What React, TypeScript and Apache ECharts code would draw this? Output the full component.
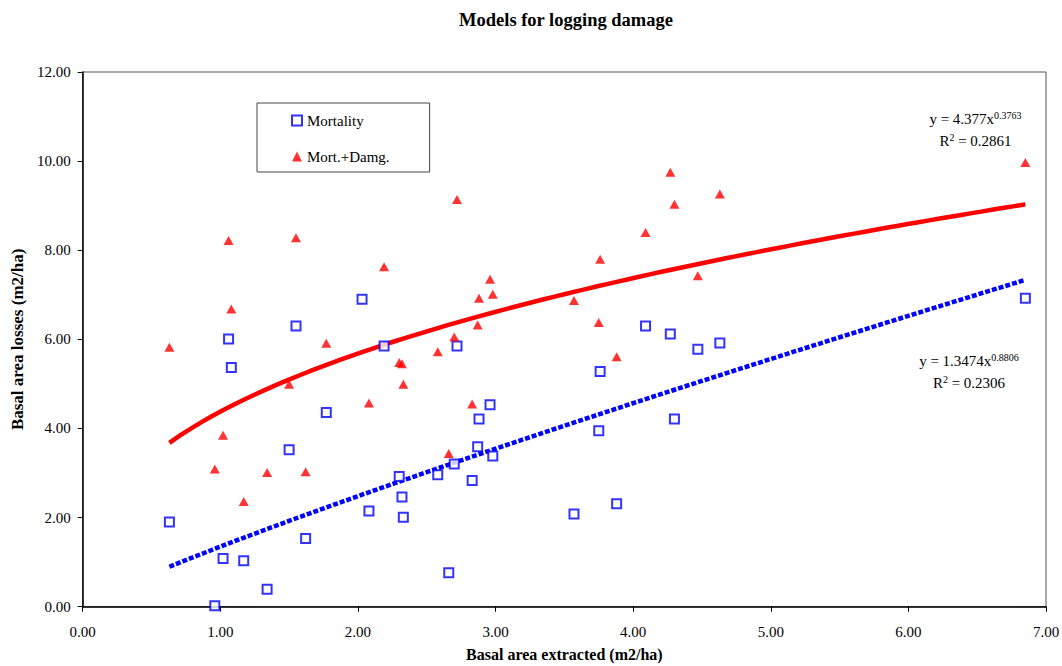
import React, { useEffect, useRef } from "react";
import * as echarts from "echarts";

// Basal area extracted (m2/ha) for each plot
const extracted = [0.63, 0.96, 1.02, 1.06, 1.08, 1.17, 1.34, 1.5, 1.55, 1.62, 1.77, 2.03, 2.08, 2.19, 2.3, 2.32, 2.33, 2.58, 2.66, 2.7, 2.72, 2.83, 2.87, 2.88, 2.96, 2.98, 3.57, 3.75, 3.76, 3.88, 4.09, 4.27, 4.3, 4.47, 4.63, 6.85];
// Mortality basal area losses (m2/ha)
const mortality = [1.9, 0.02, 1.08, 6.01, 5.37, 1.03, 0.39, 3.52, 6.3, 1.53, 4.36, 6.9, 2.15, 5.85, 2.92, 2.46, 2.01, 2.96, 0.76, 3.2, 5.85, 2.83, 3.59, 4.21, 4.53, 3.38, 2.08, 3.95, 5.28, 2.31, 6.3, 6.12, 4.21, 5.78, 5.92, 6.92];
// Mortality + damage basal area losses (m2/ha)
const mortDamage = [5.82, 3.09, 3.85, 8.22, 6.68, 2.36, 3.01, 4.99, 8.28, 3.03, 5.91, null, 4.57, 7.63, 5.48, 5.45, 4.99, 5.72, 3.44, 6.05, 9.14, 4.55, 6.32, 6.92, 7.35, 7.01, 6.87, 6.38, 7.8, 5.61, 8.4, 9.75, 9.03, 7.43, 9.26, 9.97];

// Power trendline coefficients shown on the chart
const mortalityFit = { a: 1.3474, b: 0.8806, r2: "0.2306" };
const mortDamageFit = { a: 4.377, b: 0.3763, r2: "0.2861" };

const xTicks = [0, 1, 2, 3, 4, 5, 6, 7];
const yTicks = [0, 2, 4, 6, 8, 10, 12];

const FONT = "'Liberation Serif', 'Times New Roman', serif";

function fitLine(fit: { a: number; b: number }) {
  const lo = Math.min(...extracted);
  const hi = Math.max(...extracted);
  const n = 80;
  const pts: number[][] = [];
  for (let i = 0; i <= n; i++) {
    const x = lo + ((hi - lo) * i) / n;
    pts.push([x, fit.a * Math.pow(x, fit.b)]);
  }
  return pts;
}

export default function App() {
  const ref = useRef<HTMLDivElement>(null);
  useEffect(() => {
    if (!ref.current) return;
    const chart = echarts.init(ref.current, undefined, { renderer: "svg" });
    const mortData = extracted.map((x, i) => [x, mortality[i]]);
    const mdData = extracted
      .map((x, i) => [x, mortDamage[i]])
      .filter((p) => p[1] !== null);

    const rich = {
      a: { fontFamily: FONT, fontSize: 15, color: "#222", lineHeight: 18 },
      s: { fontFamily: FONT, fontSize: 10, color: "#222", verticalAlign: "top", lineHeight: 18 },
    };

    chart.setOption({
      animation: false,
      backgroundColor: "#fff",
      title: {
        text: "Models for logging damage",
        left: 561,
        textAlign: "center",
        top: 5,
        textStyle: { fontFamily: FONT, fontWeight: "bold", fontSize: 18.5, color: "#000" },
      },
      grid: {
        left: 82.7,
        right: 16,
        top: 72,
        bottom: 59.3,
        outerBoundsMode: "none",
        containLabel: false,
        show: true,
        borderColor: "#555",
        borderWidth: 1,
        backgroundColor: "transparent",
      },
      legend: {
        data: ["Mortality", "Mort.+Damg."],
        orient: "vertical",
        left: 257,
        top: 103,
        padding: [10, 40, 8, 34],
        itemGap: 21,
        itemWidth: 10,
        itemHeight: 10,
        borderColor: "#444",
        borderWidth: 1,
        textStyle: { fontFamily: FONT, fontSize: 15, color: "#000" },
      },
      xAxis: {
        type: "value",
        min: xTicks[0],
        max: xTicks[xTicks.length - 1],
        interval: 1,
        name: "Basal area extracted (m2/ha)",
        nameLocation: "middle",
        nameGap: 40,
        nameTextStyle: { fontFamily: FONT, fontWeight: "bold", fontSize: 16, color: "#000" },
        axisLine: { lineStyle: { color: "#000", width: 1.5 } },
        axisTick: { show: true, length: 5, lineStyle: { color: "#000" } },
        splitLine: { show: false },
        axisLabel: {
          margin: 18,
          fontFamily: FONT,
          fontSize: 15,
          color: "#000",
          formatter: (v: number) => v.toFixed(2),
        },
      },
      yAxis: {
        type: "value",
        min: yTicks[0],
        max: yTicks[yTicks.length - 1],
        interval: 2,
        name: "Basal area losses (m2/ha)",
        nameLocation: "middle",
        nameGap: 57,
        nameTextStyle: { fontFamily: FONT, fontWeight: "bold", fontSize: 17, color: "#000" },
        axisLine: { lineStyle: { color: "#000", width: 1.5 } },
        axisTick: { show: true, length: 5, lineStyle: { color: "#000" } },
        splitLine: { show: false },
        axisLabel: {
          margin: 12,
          fontFamily: FONT,
          fontSize: 15,
          color: "#000",
          formatter: (v: number) => v.toFixed(2),
        },
      },
      series: [
        {
          name: "Mort.+Damg. fit",
          type: "line",
          data: fitLine(mortDamageFit),
          showSymbol: false,
          smooth: false,
          lineStyle: { color: "#ff0000", width: 4.5 },
          z: 2,
        },
        {
          name: "Mortality fit",
          type: "line",
          data: fitLine(mortalityFit),
          showSymbol: false,
          lineStyle: { color: "#0000ff", width: 4.5, type: [5, 2] },
          z: 2,
        },
        {
          name: "Mortality",
          type: "scatter",
          data: mortData,
          symbol: "emptyRect",
          symbolSize: 9,
          itemStyle: { color: "#0000ff", borderColor: "#0000ff", borderWidth: 1.5 },
          z: 3,
        },
        {
          name: "Mort.+Damg.",
          type: "scatter",
          data: mdData,
          symbol: "triangle",
          symbolSize: [10, 9],
          itemStyle: { color: "#ff0000" },
          z: 3,
        },
      ],
      graphic: [
        {
          type: "text",
          x: 975.5,
          y: 119,
          style: {
            text: `{a|y = ${mortDamageFit.a}x}{s|${mortDamageFit.b}}`,
            rich,
            align: "center",
            verticalAlign: "middle",
          },
        },
        {
          type: "text",
          x: 975.5,
          y: 141,
          style: {
            text: `{a|R}{s|2}{a| = ${mortDamageFit.r2}}`,
            rich,
            align: "center",
            verticalAlign: "middle",
          },
        },
        {
          type: "text",
          x: 969,
          y: 361,
          style: {
            text: `{a|y = ${mortalityFit.a}x}{s|${mortalityFit.b}}`,
            rich,
            align: "center",
            verticalAlign: "middle",
          },
        },
        {
          type: "text",
          x: 969,
          y: 383,
          style: {
            text: `{a|R}{s|2}{a| = ${mortalityFit.r2}}`,
            rich,
            align: "center",
            verticalAlign: "middle",
          },
        },
      ],
    });
    return () => chart.dispose();
  }, []);
  return (
    <div
      ref={ref}
      style={{ position: "fixed", left: 0, top: 0, width: 1062, height: 666 }}
    />
  );
}
